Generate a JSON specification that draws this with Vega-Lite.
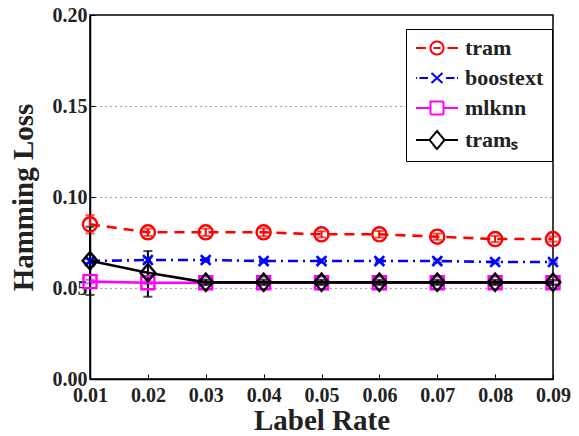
{
  "$schema": "https://vega.github.io/schema/vega-lite/v6.json",
  "width": 463,
  "height": 364,
  "autosize": {"type": "none"},
  "padding": {"left": 90, "top": 15, "right": 26, "bottom": 57},
  "background": "white",
  "config": {
    "font": "Liberation Serif",
    "view": {"stroke": "black", "strokeWidth": 1.5},
    "axis": {
      "labelFont": "Liberation Serif",
      "labelFontWeight": "bold",
      "labelFontSize": 20,
      "labelColor": "#222",
      "titleFont": "Liberation Serif",
      "titleFontWeight": "bold",
      "titleFontSize": 29,
      "titleColor": "#222",
      "domainColor": "black",
      "domainWidth": 1.5,
      "tickColor": "black",
      "tickWidth": 1
    }
  },
  "data": {
    "values": [
      {"method": "tram", "x": 0.01, "y": 0.085, "lo": 0.080, "hi": 0.090},
      {"method": "tram", "x": 0.02, "y": 0.0806, "lo": 0.0786, "hi": 0.0826},
      {"method": "tram", "x": 0.03, "y": 0.0806, "lo": 0.0786, "hi": 0.0826},
      {"method": "tram", "x": 0.04, "y": 0.0806, "lo": 0.0784, "hi": 0.0828},
      {"method": "tram", "x": 0.05, "y": 0.0795, "lo": 0.0778, "hi": 0.0812},
      {"method": "tram", "x": 0.06, "y": 0.0795, "lo": 0.0777, "hi": 0.0813},
      {"method": "tram", "x": 0.07, "y": 0.0782, "lo": 0.0765, "hi": 0.0799},
      {"method": "tram", "x": 0.08, "y": 0.0769, "lo": 0.0752, "hi": 0.0786},
      {"method": "tram", "x": 0.09, "y": 0.0769, "lo": 0.0755, "hi": 0.0783},
      {"method": "boostext", "x": 0.01, "y": 0.0648, "lo": 0.0638, "hi": 0.0658},
      {"method": "boostext", "x": 0.02, "y": 0.0654, "lo": 0.0642, "hi": 0.0666},
      {"method": "boostext", "x": 0.03, "y": 0.0654, "lo": 0.0644, "hi": 0.0664},
      {"method": "boostext", "x": 0.04, "y": 0.0648, "lo": 0.0640, "hi": 0.0656},
      {"method": "boostext", "x": 0.05, "y": 0.0648, "lo": 0.0640, "hi": 0.0656},
      {"method": "boostext", "x": 0.06, "y": 0.0648, "lo": 0.0640, "hi": 0.0656},
      {"method": "boostext", "x": 0.07, "y": 0.0648, "lo": 0.0640, "hi": 0.0656},
      {"method": "boostext", "x": 0.08, "y": 0.0643, "lo": 0.0636, "hi": 0.0650},
      {"method": "boostext", "x": 0.09, "y": 0.0643, "lo": 0.0636, "hi": 0.0650},
      {"method": "mlknn", "x": 0.01, "y": 0.0535, "lo": 0.0525, "hi": 0.0545},
      {"method": "mlknn", "x": 0.02, "y": 0.0529, "lo": 0.0521, "hi": 0.0537},
      {"method": "mlknn", "x": 0.03, "y": 0.0529, "lo": 0.0521, "hi": 0.0537},
      {"method": "mlknn", "x": 0.04, "y": 0.0529, "lo": 0.0521, "hi": 0.0537},
      {"method": "mlknn", "x": 0.05, "y": 0.0529, "lo": 0.0521, "hi": 0.0537},
      {"method": "mlknn", "x": 0.06, "y": 0.0529, "lo": 0.0521, "hi": 0.0537},
      {"method": "mlknn", "x": 0.07, "y": 0.0529, "lo": 0.0521, "hi": 0.0537},
      {"method": "mlknn", "x": 0.08, "y": 0.0529, "lo": 0.0521, "hi": 0.0537},
      {"method": "mlknn", "x": 0.09, "y": 0.0529, "lo": 0.0521, "hi": 0.0537},
      {"method": "tram_s", "x": 0.01, "y": 0.065, "lo": 0.0462, "hi": 0.0837},
      {"method": "tram_s", "x": 0.02, "y": 0.0584, "lo": 0.0452, "hi": 0.0703},
      {"method": "tram_s", "x": 0.03, "y": 0.0531, "lo": 0.0516, "hi": 0.0546},
      {"method": "tram_s", "x": 0.04, "y": 0.0531, "lo": 0.0516, "hi": 0.0546},
      {"method": "tram_s", "x": 0.05, "y": 0.0531, "lo": 0.0517, "hi": 0.0545},
      {"method": "tram_s", "x": 0.06, "y": 0.0531, "lo": 0.0517, "hi": 0.0545},
      {"method": "tram_s", "x": 0.07, "y": 0.0531, "lo": 0.0517, "hi": 0.0545},
      {"method": "tram_s", "x": 0.08, "y": 0.0531, "lo": 0.0517, "hi": 0.0545},
      {"method": "tram_s", "x": 0.09, "y": 0.0531, "lo": 0.0517, "hi": 0.0545}
    ]
  },
  "encoding": {
    "x": {
      "field": "x",
      "type": "quantitative",
      "scale": {"domain": [0.01, 0.09], "nice": false, "zero": false},
      "axis": {
        "title": "Label Rate",
        "values": [0.01, 0.02, 0.03, 0.04, 0.05, 0.06, 0.07, 0.08, 0.09],
        "format": ".2f",
        "grid": false,
        "tickSize": -5,
        "labelPadding": 11,
        "labelFlush": false,
        "labelOverlap": false,
        "titlePadding": 1
      }
    },
    "color": {
      "field": "method",
      "type": "nominal",
      "scale": {
        "domain": ["tram", "boostext", "mlknn", "tram_s"],
        "range": ["#ff0000", "#0000ff", "#ff00ff", "#000000"]
      },
      "legend": {
        "title": null,
        "orient": "none",
        "legendX": 316,
        "legendY": 14,
        "direction": "vertical",
        "fillColor": "white",
        "strokeColor": "black",
        "padding": 8,
        "labelFont": "Liberation Serif",
        "labelFontWeight": "bold",
        "labelFontSize": 22,
        "labelColor": "#222",
        "labelExpr": "datum.value === 'tram_s' ? 'tramₛ' : datum.value",
        "symbolSize": 400,
        "symbolOffset": 12,
        "symbolStrokeWidth": 2,
        "symbolFillColor": "transparent",
        "rowPadding": 8,
        "labelOffset": 17,
        "encode": {
          "symbols": {
            "update": {
              "fill": {"value": "transparent"},
              "fillOpacity": {"value": 0},
              "strokeDash": {"value": [1, 0]},
              "strokeWidth": {"value": 2},
              "shape": {"signal": "datum.value === 'tram' ? 'M-2.1,0L-1.1,0M1.05,0L2.1,0M-0.35,0L0.35,0M-0.65,0C-0.65,-0.359 -0.359,-0.65 0,-0.65C0.359,-0.65 0.65,-0.359 0.65,0C0.65,0.359 0.359,0.65 0,0.65C-0.359,0.65 -0.65,0.359 -0.65,0Z' : datum.value === 'boostext' ? 'M-2.1,0L-2,0M-1.75,0L-0.9,0M-0.55,-0.5L0.55,0.5M-0.55,0.5L0.55,-0.5M0.9,0L1.75,0M2,0L2.1,0' : datum.value === 'mlknn' ? 'M-2.1,0L-0.65,0M0.65,0L2.1,0M-0.65,-0.65L0.65,-0.65L0.65,0.65L-0.65,0.65Z' : 'M-2.1,0L-0.75,0M0.75,0L2.1,0M-0.75,0L0,-0.9L0.75,0L0,0.9Z'"}
            }
          }
        }
      }
    }
  },
  "layer": [
    {
      "mark": {"type": "errorbar", "ticks": {"size": 9}, "thickness": 2},
      "encoding": {
        "y": {
          "field": "lo",
          "type": "quantitative",
          "scale": {"domain": [0, 0.2], "nice": false},
          "axis": {
            "title": "Hamming Loss",
            "values": [0, 0.05, 0.1, 0.15, 0.2],
            "format": ".2f",
            "grid": true,
            "gridDash": [1, 4],
            "gridColor": "#444",
            "gridWidth": 1,
            "tickSize": -5,
            "labelPadding": 8,
            "labelFlush": false,
            "titlePadding": 14
          }
        },
        "y2": {"field": "hi"}
      }
    },
    {
      "transform": [{"filter": "datum.method === 'tram'"}],
      "mark": {"type": "line", "strokeWidth": 2.6, "strokeDash": [10, 7]},
      "encoding": {"y": {"field": "y", "type": "quantitative"}}
    },
    {
      "transform": [{"filter": "datum.method === 'boostext'"}],
      "mark": {"type": "line", "strokeWidth": 2.6, "strokeDash": [10, 5, 2, 5]},
      "encoding": {"y": {"field": "y", "type": "quantitative"}}
    },
    {
      "transform": [{"filter": "datum.method === 'mlknn'"}],
      "mark": {"type": "line", "strokeWidth": 2.6},
      "encoding": {"y": {"field": "y", "type": "quantitative"}}
    },
    {
      "transform": [{"filter": "datum.method === 'tram'"}],
      "mark": {"type": "point", "filled": false, "strokeWidth": 2.4, "shape": "circle", "size": 200, "opacity": 1},
      "encoding": {"y": {"field": "y", "type": "quantitative"}}
    },
    {
      "transform": [{"filter": "datum.method === 'boostext'"}],
      "mark": {"type": "point", "filled": false, "strokeWidth": 2.6, "shape": "M-0.8,-0.8L0.8,0.8M-0.8,0.8L0.8,-0.8", "size": 150, "opacity": 1},
      "encoding": {"y": {"field": "y", "type": "quantitative"}}
    },
    {
      "transform": [{"filter": "datum.method === 'mlknn'"}],
      "mark": {"type": "point", "filled": false, "strokeWidth": 2.4, "shape": "square", "size": 169, "opacity": 1},
      "encoding": {"y": {"field": "y", "type": "quantitative"}}
    },
    {
      "transform": [{"filter": "datum.method === 'tram_s'"}],
      "mark": {"type": "line", "strokeWidth": 2.6},
      "encoding": {"y": {"field": "y", "type": "quantitative"}}
    },
    {
      "transform": [{"filter": "datum.method === 'tram_s'"}],
      "mark": {"type": "point", "filled": false, "strokeWidth": 2.4, "shape": "M-0.85,0L0,-1L0.85,0L0,1Z", "size": 300, "opacity": 1},
      "encoding": {"y": {"field": "y", "type": "quantitative"}}
    }
  ]
}
